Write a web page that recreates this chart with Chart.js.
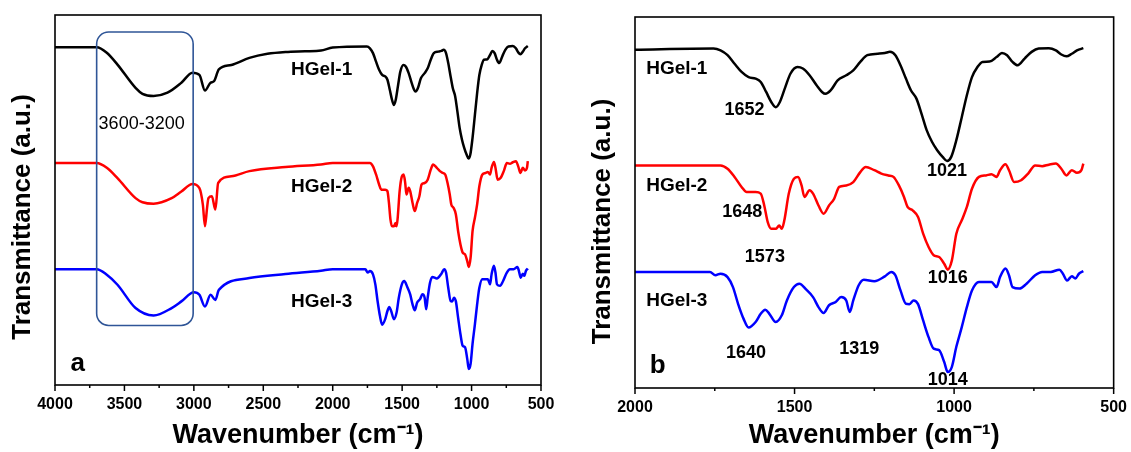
<!DOCTYPE html>
<html>
<head>
<meta charset="utf-8">
<script src="https://cdn.jsdelivr.net/npm/chart.js@4"></script>
<style>
  body { margin: 0; background: #fff; }
  .panel { position: absolute; top: 0; height: 452px; }
  #pa { left: 0; width: 565px; }
  #pb { left: 565px; width: 566px; }
</style>
</head>
<body>
<div class="panel" id="pa"><canvas id="ca"></canvas></div>
<div class="panel" id="pb"><canvas id="cb"></canvas></div>
<script>
// FTIR spectra, y in a.u. (0 = bottom of frame, 100 = top), x = wavenumber
// high wavenumber part
const hgel1High = [[4000,91.3],[3700,91.3],[3627,89.8],[3550,86.6],[3420,80.3],[3370,78.7],[3290,78.1],[3190,79.0],[3090,81.7],[3010,84.4],[2960,83.8],[2920,79.6],[2880,81.7],[2855,82.1],[2820,85.3],[2730,86.5],[2600,88.4],[2470,89.5],[2340,90.0],[2200,90.2],[2085,90.4]]
const hgel2High = [[4000,60.0],[3700,60.0],[3627,58.7],[3550,55.9],[3420,50.5],[3370,49.4],[3290,49.0],[3160,50.5],[3090,52.3],[3010,54.3],[2960,53.2],[2935,48.7],[2920,42.9],[2905,47.8],[2895,50.5],[2870,51.0],[2845,47.4],[2825,54.6],[2730,56.4],[2600,57.8],[2340,58.9],[2085,59.6]]
const hgel3High = [[4000,31.3],[3700,31.3],[3627,29.8],[3550,27.1],[3420,20.8],[3290,18.8],[3160,20.8],[3090,22.6],[3000,25.1],[2960,24.4],[2920,21.2],[2880,24.4],[2845,23.0],[2820,25.7],[2600,28.9],[2340,30.0],[2085,30.9]]

// fingerprint part 2000-595 (same vertical scale in both panels)
const hgel1Fp = [[2000,91.2],[1754,91.5],[1732,91.0],[1710,89.7],[1688,87.4],[1666,85.2],[1644,83.8],[1622,83.4],[1606,82.5],[1589,79.8],[1573,77.1],[1559,75.7],[1546,77.1],[1529,81.1],[1513,84.7],[1491,86.5],[1474,86.1],[1453,84.3],[1431,81.6],[1414,79.8],[1403,79.3],[1387,80.2],[1365,82.9],[1338,84.3],[1316,85.6],[1294,87.9],[1272,89.7],[1239,90.1],[1217,90.3],[1201,90.6],[1184,89.7],[1168,87.0],[1151,83.4],[1135,80.2],[1118,78.0],[1102,73.9],[1086,69.5],[1069,66.3],[1053,64.1],[1036,62.3],[1022,61.2],[1009,62.3],[993,66.8],[976,73.0],[960,78.9],[944,83.8],[927,86.5],[911,87.9],[889,88.0],[867,89.2],[850,90.3],[834,89.7],[817,87.9],[801,87.0],[779,88.8],[757,90.6],[735,91.5],[703,91.6],[681,91.0],[664,89.9],[648,89.4],[631,90.1],[615,91.0],[595,91.6]]
const hgel2Fp = [[2000,60.0],[1732,60.0],[1710,59.1],[1688,56.9],[1666,54.2],[1650,52.8],[1622,52.8],[1606,52.4],[1595,49.2],[1584,44.7],[1573,42.9],[1559,42.9],[1548,43.8],[1540,42.9],[1532,45.2],[1518,52.4],[1502,56.4],[1489,56.9],[1478,54.6],[1469,51.5],[1453,53.3],[1442,52.4],[1425,49.2],[1409,47.0],[1392,49.2],[1376,51.0],[1360,54.2],[1338,54.6],[1316,55.5],[1294,58.2],[1277,59.6],[1250,58.7],[1228,57.8],[1206,57.3],[1190,56.9],[1173,54.6],[1157,51.5],[1146,48.8],[1130,47.9],[1113,46.1],[1097,41.6],[1080,38.0],[1064,35.8],[1047,35.3],[1031,33.5],[1020,31.9],[1007,34.4],[993,41.6],[976,45.2],[960,48.8],[944,53.7],[922,56.9],[900,57.3],[883,57.6],[867,56.9],[856,58.7],[839,60.3],[828,58.7],[812,55.5],[790,56.0],[768,57.8],[746,60.0],[724,59.8],[703,60.2],[681,60.5],[664,59.1],[648,57.3],[631,58.7],[615,58.0],[601,58.7],[595,60.5]]
const hgel3Fp = [[2000,31.3],[1765,31.3],[1748,30.4],[1732,30.8],[1710,29.9],[1693,27.2],[1677,22.7],[1660,18.7],[1644,16.3],[1622,17.8],[1606,20.0],[1592,21.1],[1579,20.0],[1559,17.8],[1540,19.6],[1524,23.6],[1502,27.2],[1485,28.1],[1463,26.5],[1442,24.5],[1425,21.8],[1409,20.2],[1392,22.3],[1371,23.2],[1354,24.5],[1338,23.6],[1327,20.5],[1316,23.6],[1299,27.7],[1283,29.2],[1250,28.8],[1217,30.1],[1197,31.3],[1184,30.4],[1168,26.3],[1151,22.7],[1140,22.6],[1127,23.6],[1113,22.6],[1097,18.2],[1080,13.7],[1064,10.6],[1047,10.2],[1031,7.0],[1020,4.3],[1007,5.7],[993,11.1],[976,16.4],[960,21.8],[944,26.3],[922,28.6],[900,28.6],[883,28.6],[867,27.2],[856,29.9],[839,32.2],[828,30.4],[817,27.2],[795,26.8],[773,28.1],[746,30.4],[724,31.3],[697,31.3],[670,31.9],[659,30.8],[646,29.0],[631,30.1],[620,29.5],[609,30.8],[595,31.5]]

// annotations (text, wavenumber, a.u.)
const textsA = ['HGel-1', 'HGel-2', 'HGel-3']
const textXA = [2080, 2080, 2080]
const textYA = [85.3, 53.5, 22.4]
const boxText = '3600-3200'
const boxRange = [3700, 3005]
const boxLevels = [16.1, 95.4]

const textsB = ['HGel-1', 'HGel-2', 'HGel-3']
const textXB = [1869, 1869, 1869]
const textYB = [86.1, 54.4, 23.5]
const peakTexts = ['1652', '1021', '1648', '1573', '1016', '1640', '1319', '1014']
const peakX = [1657, 1022, 1664, 1593, 1020, 1652, 1297, 1020]
const peakY = [75.0, 58.5, 47.4, 35.3, 29.7, 9.3, 10.6, 2.1]

const colors = ['#000000', '#ff0000', '#0000ff']
const FONT = "Arial, 'Liberation Sans', sans-serif"
Chart.defaults.font.family = FONT
Chart.defaults.color = '#000'

function pts(arr) {
    return arr.map(p => ({ x: p[0], y: p[1] }))
}

function series(list) {
    return list.map((d, i) => ({
        data: pts(d),
        borderColor: colors[i],
        borderWidth: 2.5,
        pointRadius: 0,
        cubicInterpolationMode: 'monotone',
        fill: false
    }))
}

// frame round the plot + minor ticks (shorter) + y title
function framePlugin(titleX, titleShift) {
    return {
        id: 'frame',
        afterDraw(chart) {
            let a = chart.chartArea, ctx = chart.ctx, sx = chart.scales.x
            ctx.save()
            ctx.strokeStyle = '#000'
            ctx.lineWidth = 1.6
            ctx.strokeRect(a.left, a.top, a.right - a.left, a.bottom - a.top)
            ctx.lineWidth = 1.5
            sx.ticks.forEach(t => {
                let len = t.value % 500 === 0 ? 6 : 3
                let px = sx.getPixelForValue(t.value)
                ctx.beginPath()
                ctx.moveTo(px, a.bottom)
                ctx.lineTo(px, a.bottom + len)
                ctx.stroke()
            })
            ctx.translate(titleX, (a.top + a.bottom) / 2 + titleShift)
            ctx.rotate(-Math.PI / 2)
            ctx.font = 'bold 26px ' + FONT
            ctx.fillStyle = '#000'
            ctx.textAlign = 'center'
            ctx.textBaseline = 'middle'
            ctx.fillText('Transmittance (a.u.)', 0, 0)
            ctx.restore()
        }
    }
}

function textPlugin(id, draw) {
    return { id: id, afterDatasetsDraw: draw }
}

function put(chart, txt, x, y, font, align) {
    let ctx = chart.ctx
    ctx.font = font
    ctx.fillStyle = '#000'
    ctx.textAlign = align || 'center'
    ctx.textBaseline = 'middle'
    ctx.fillText(txt, chart.scales.x.getPixelForValue(x), chart.scales.y.getPixelForValue(y))
}

function makeChart(canvas, cfg) {
    return new Chart(canvas, {
        type: 'line',
        data: { datasets: series(cfg.data) },
        options: {
            responsive: true,
            maintainAspectRatio: false,
            animation: false,
            layout: { padding: cfg.padding },
            plugins: { legend: { display: false }, tooltip: { enabled: false } },
            scales: {
                x: {
                    type: 'linear',
                    reverse: true,
                    min: 500,
                    max: cfg.xmax,
                    afterFit: s => { s.height = cfg.xh },
                    ticks: {
                        stepSize: 250,
                        autoSkip: false,
                        maxRotation: 0,
                        padding: 4,
                        font: { size: 16, weight: 'bold' },
                        callback: v => v % 500 === 0 ? v : ''
                    },
                    grid: { drawOnChartArea: false, tickLength: 6, color: 'rgba(0,0,0,0)' },
                    border: { display: false },
                    title: {
                        display: true,
                        text: 'Wavenumber (cm\u207B\u00B9)',
                        font: { size: 27, weight: 'bold' },
                        padding: { top: 0, bottom: 0 }
                    }
                },
                y: {
                    min: 0,
                    max: 100,
                    afterFit: s => { s.width = cfg.yw },
                    ticks: { display: false },
                    grid: { display: false },
                    border: { display: false }
                }
            }
        },
        plugins: [framePlugin(cfg.titleX, cfg.titleShift), cfg.extra]
    })
}

// Panel a
let chartA = makeChart(document.getElementById('ca'), {
    data: [hgel1High.concat(hgel1Fp), hgel2High.concat(hgel2Fp), hgel3High.concat(hgel3Fp)],
    xmax: 4000,
    padding: { top: 15, right: 24, left: 0, bottom: 0 },
    xh: 67,
    yw: 55,
    titleX: 23,
    titleShift: 17,
    extra: textPlugin('textA', chart => {
        let ctx = chart.ctx, sx = chart.scales.x, sy = chart.scales.y
        ctx.save()
        // box round the O-H band
        let x0 = sx.getPixelForValue(boxRange[0]), x1 = sx.getPixelForValue(boxRange[1])
        let y0 = sy.getPixelForValue(boxLevels[1]), y1 = sy.getPixelForValue(boxLevels[0])
        ctx.strokeStyle = '#2f5597'
        ctx.lineWidth = 1.6
        ctx.beginPath()
        ctx.roundRect(x0, y0, x1 - x0, y1 - y0, 12)
        ctx.stroke()
        put(chart, boxText, 3376, 70.4, '18px ' + FONT)
        for (let i = 0; i < textsA.length; i++) {
            put(chart, textsA[i], textXA[i], textYA[i], 'bold 19px ' + FONT)
        }
        put(chart, 'a', 3836, 5.6, 'bold 26px ' + FONT)
        ctx.restore()
    })
})

// Panel b
let chartB = makeChart(document.getElementById('cb'), {
    data: [hgel1Fp, hgel2Fp, hgel3Fp],
    xmax: 2000,
    padding: { top: 17, right: 15, left: 0, bottom: 0 },
    xh: 64,
    yw: 70,
    titleX: 38,
    titleShift: 19,
    extra: textPlugin('textB', chart => {
        chart.ctx.save()
        for (let i = 0; i < textsB.length; i++) {
            put(chart, textsB[i], textXB[i], textYB[i], 'bold 19px ' + FONT)
        }
        for (let i = 0; i < peakTexts.length; i++) {
            put(chart, peakTexts[i], peakX[i], peakY[i], 'bold 18px ' + FONT)
        }
        put(chart, 'b', 1929, 6.1, 'bold 26px ' + FONT)
        chart.ctx.restore()
    })
})
</script>
</body>
</html>
